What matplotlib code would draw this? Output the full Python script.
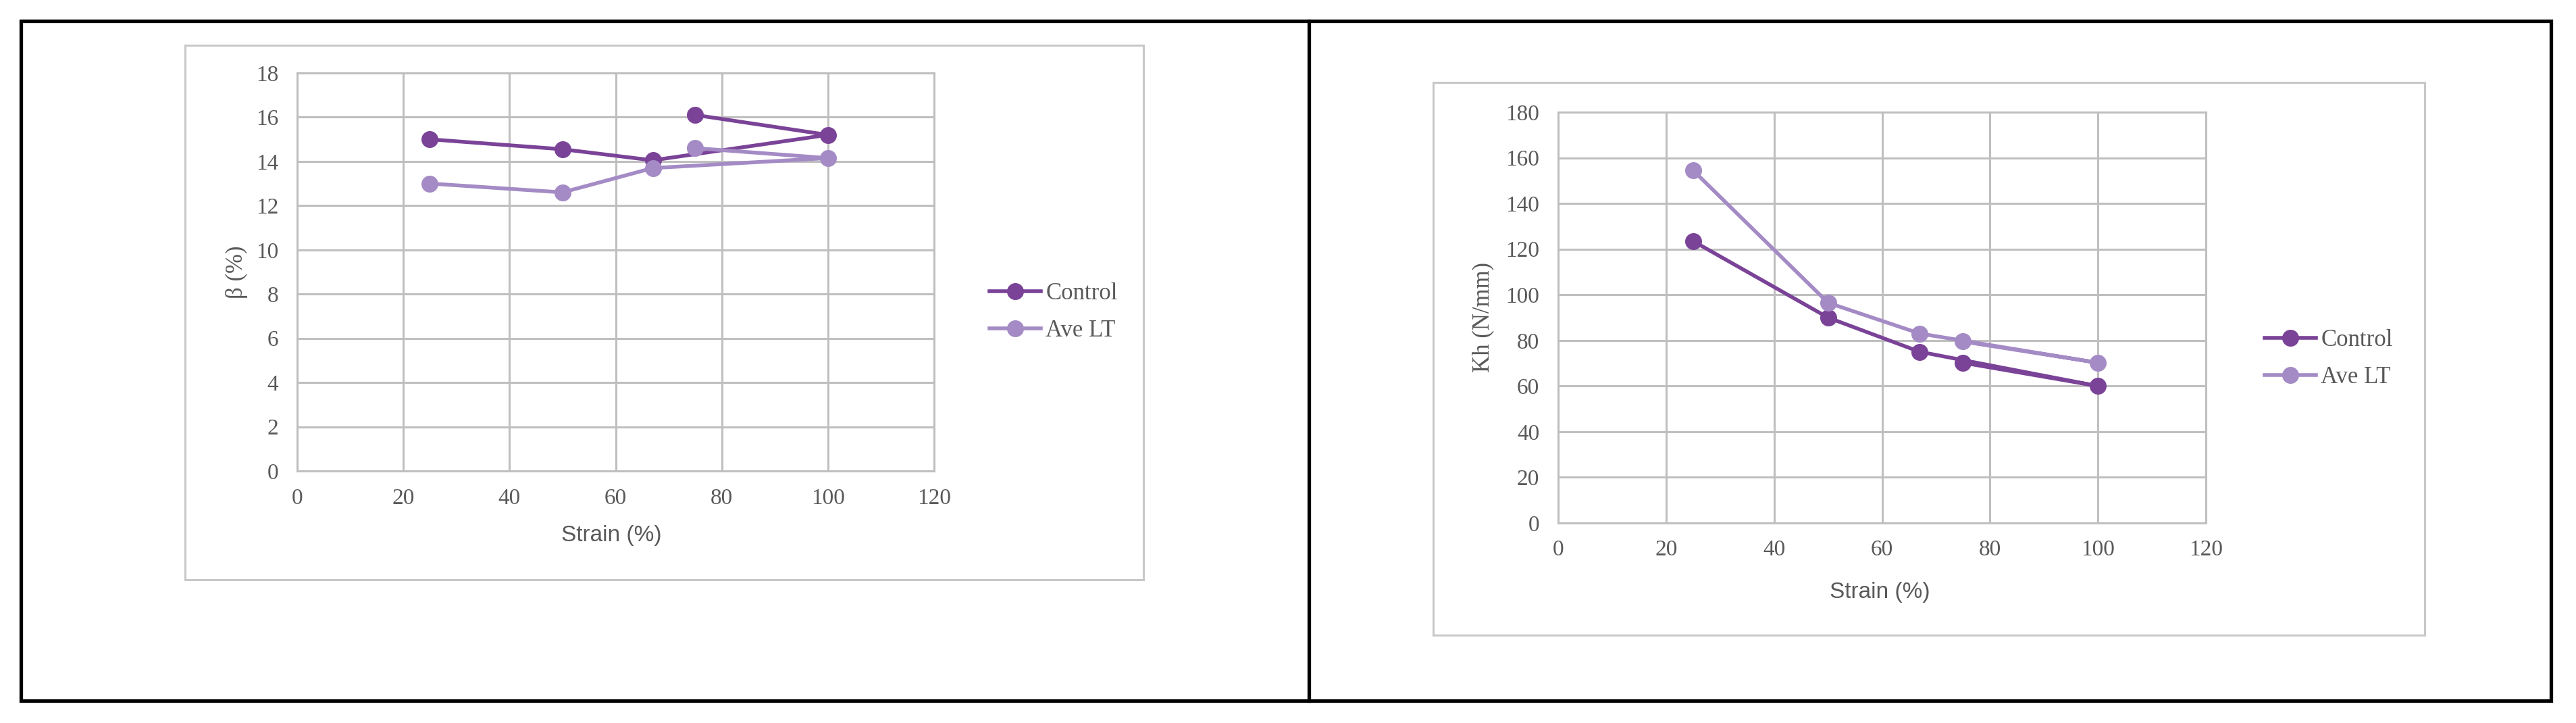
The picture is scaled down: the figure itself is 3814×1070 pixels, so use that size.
import matplotlib
matplotlib.use("Agg")
import matplotlib.pyplot as plt
from matplotlib.patches import Rectangle
from matplotlib.lines import Line2D

# ---------------- data ----------------
strain = [25, 50, 67, 100, 75]
beta_control = [15.0, 14.55, 14.05, 15.2, 16.1]
beta_avelt = [13.0, 12.6, 13.7, 14.15, 14.6]
kh_control = [123.5, 90.0, 75.0, 60.0, 70.2]
kh_avelt = [154.5, 96.5, 83.0, 70.2, 79.5]
series_labels = ["Control", "Ave LT"]
x_ticks = [0, 20, 40, 60, 80, 100, 120]
beta_ticks = [0, 2, 4, 6, 8, 10, 12, 14, 16, 18]
kh_ticks = [0, 20, 40, 60, 80, 100, 120, 140, 160, 180]

# ---------------- style ----------------
W, H, DPI = 3814, 1070, 100
C_CONTROL = "#7A4397"
C_AVELT = "#A48BC5"
GRID = "#BFBFBF"
FRAME = "#C8C8C8"
TXT = "#595959"
SERIF = ["Liberation Serif", "DejaVu Serif"]
NARROW = ["Liberation Sans Narrow", "Liberation Sans", "DejaVu Sans"]

fig = plt.figure(figsize=(W / DPI, H / DPI), dpi=DPI)
fig.patch.set_facecolor("white")


def fx(px):
    return px / W


def fy(py):
    return 1 - py / H


def rect_px(x0, y0, x1, y1, color, lw):
    fig.patches.append(Rectangle((fx(x0), fy(y1)), fx(x1) - fx(x0), fy(y0) - fy(y1),
                                 transform=fig.transFigure, fill=False,
                                 edgecolor=color, linewidth=lw, zorder=0))


# outer black frame + divider
rect_px(31, 31, 3777, 1037, "black", 3.8)
fig.add_artist(Line2D([fx(1938), fx(1938)], [fy(31), fy(1037)],
                      transform=fig.transFigure, color="black", linewidth=3.8))

# chart area frames
rect_px(274, 67, 1693, 858, FRAME, 2.2)
rect_px(2122, 122, 3590, 940, FRAME, 2.2)


def make_axes(l, t, r, b, ylim, yticks, ylabel, yc, yv, ylab_x, ylab_y,
              xlab_x, xlab_y, leg_x, leg_y):
    ax = fig.add_axes([fx(l), fy(b), fx(r) - fx(l), fy(t) - fy(b)])
    ax.set_xlim(0, 120)
    ax.set_ylim(*ylim)
    ax.set_xticks(x_ticks)
    ax.set_yticks(yticks)
    ax.grid(True, color=GRID, linewidth=2.2)
    ax.set_axisbelow(True)
    for s in ax.spines.values():
        s.set_color(GRID)
        s.set_linewidth(2.2)
    ax.tick_params(length=0, labelsize=24, labelcolor=TXT)
    ax.tick_params(axis="y", pad=20)
    ax.tick_params(axis="x", pad=18)
    for lab in ax.get_xticklabels() + ax.get_yticklabels():
        lab.set_fontfamily(SERIF)
    ax.plot(strain, yc, color=C_CONTROL, linewidth=4.0, marker="o",
            markersize=17, label=series_labels[0], zorder=3)
    ax.plot(strain, yv, color=C_AVELT, linewidth=4.0, marker="o",
            markersize=17, label=series_labels[1], zorder=3)
    fig.text(fx(ylab_x), fy(ylab_y), ylabel, rotation=90, ha="center", va="center",
             fontsize=25, color=TXT, family=SERIF)
    fig.text(fx(xlab_x), fy(xlab_y), "Strain (%)", ha="center", va="center",
             fontsize=24, color=TXT, family=NARROW)
    leg = ax.legend(loc="center left", bbox_to_anchor=(fx(leg_x), fy(leg_y)),
                    bbox_transform=fig.transFigure, frameon=False, borderpad=0,
                    borderaxespad=0, handlelength=2.2, handletextpad=0.2,
                    labelspacing=0.65, prop={"family": SERIF, "size": 25})
    for t_ in leg.get_texts():
        t_.set_color(TXT)
    return ax


make_axes(440, 108, 1383, 697, (0, 18), beta_ticks, "β (%)", beta_control, beta_avelt,
          350, 403, 905, 792, 1465, 462)
make_axes(2307, 166, 3266, 774, (0, 180), kh_ticks, "Kh (N/mm)", kh_control, kh_avelt,
          2196, 470, 2783, 877, 3353, 531)

fig.savefig("out.png", dpi=DPI, facecolor="white")
